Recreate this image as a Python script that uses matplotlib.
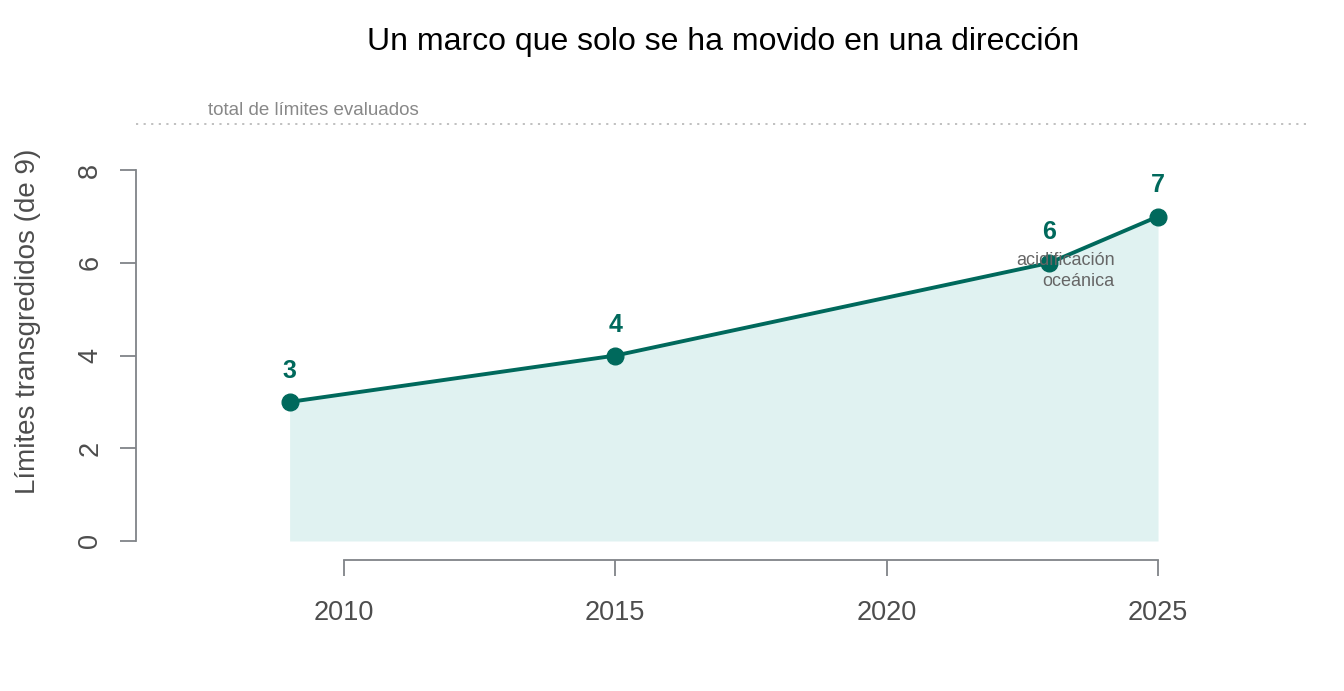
import matplotlib.pyplot as plt

plt.rcParams['font.family'] = ['Liberation Sans', 'DejaVu Sans']

years = [2009, 2015, 2023, 2025]
crossed = [3, 4, 6, 7]
total = 9
x_ticks = [2010, 2015, 2020, 2025]
y_ticks = [0, 2, 4, 6, 8]
note_year = 2023
note_text = "acidificación\noceánica"

line_col = "#00695C"
fill_col = "#E0F2F1"
axis_col = "#808488"
text_col = "#4D4D4D"

fig = plt.figure(figsize=(13.44, 6.91), dpi=100)
W, H = 1344, 691
ax = fig.add_axes([136 / W, 1 - 560 / H, (1310 - 136) / W, (560 - 83) / H])

ax.fill_between(years, crossed, 0, color=fill_col, lw=0)
ax.plot(years, crossed, color=line_col, lw=2.8, marker="o", ms=12, zorder=3)
for x, y in zip(years, crossed):
    ax.text(x, y + 0.67, str(y), ha="center", va="center", fontsize=18,
            fontweight="bold", color=line_col)

i = years.index(note_year)
ax.text(note_year + 1.2, crossed[i] - 0.18, note_text, ha="right", va="center",
        fontsize=13, color="#666666", linespacing=1.32, zorder=4)

ax.axhline(total, color="#BBBBBB", ls=(0, (1.2, 3)), lw=1.3)
ax.text(2007.5, total + 0.11, "total de límites evaluados", ha="left",
        va="bottom", fontsize=13.5, color="#888888")

ax.set_xlim(2006.17, 2027.8)
ax.set_ylim(-0.41, 9.88)
ax.set_xticks(x_ticks)
ax.set_yticks(y_ticks)
ax.tick_params(axis="x", length=11.5, width=1.3, color=axis_col, pad=17,
               labelsize=19.5, labelcolor=text_col)
ax.tick_params(axis="y", length=11.5, width=1.3, color=axis_col, pad=12,
               labelsize=19.5, labelcolor=text_col, labelrotation=90)
for t in ax.get_yticklabels():
    t.set_va("center")
for s in ["top", "right"]:
    ax.spines[s].set_visible(False)
ax.spines["bottom"].set_bounds(2010, 2025)
ax.spines["left"].set_bounds(0, 8)
for s in ["bottom", "left"]:
    ax.spines[s].set_color(axis_col)
    ax.spines[s].set_linewidth(1.3)

ax.set_ylabel("Límites transgredidos (de 9)", fontsize=20, color=text_col,
              labelpad=26)
fig.suptitle("Un marco que solo se ha movido en una dirección", x=723 / W,
             y=1 - 42 / H, va="center", fontsize=23)

fig.savefig("out.png", dpi=100)
